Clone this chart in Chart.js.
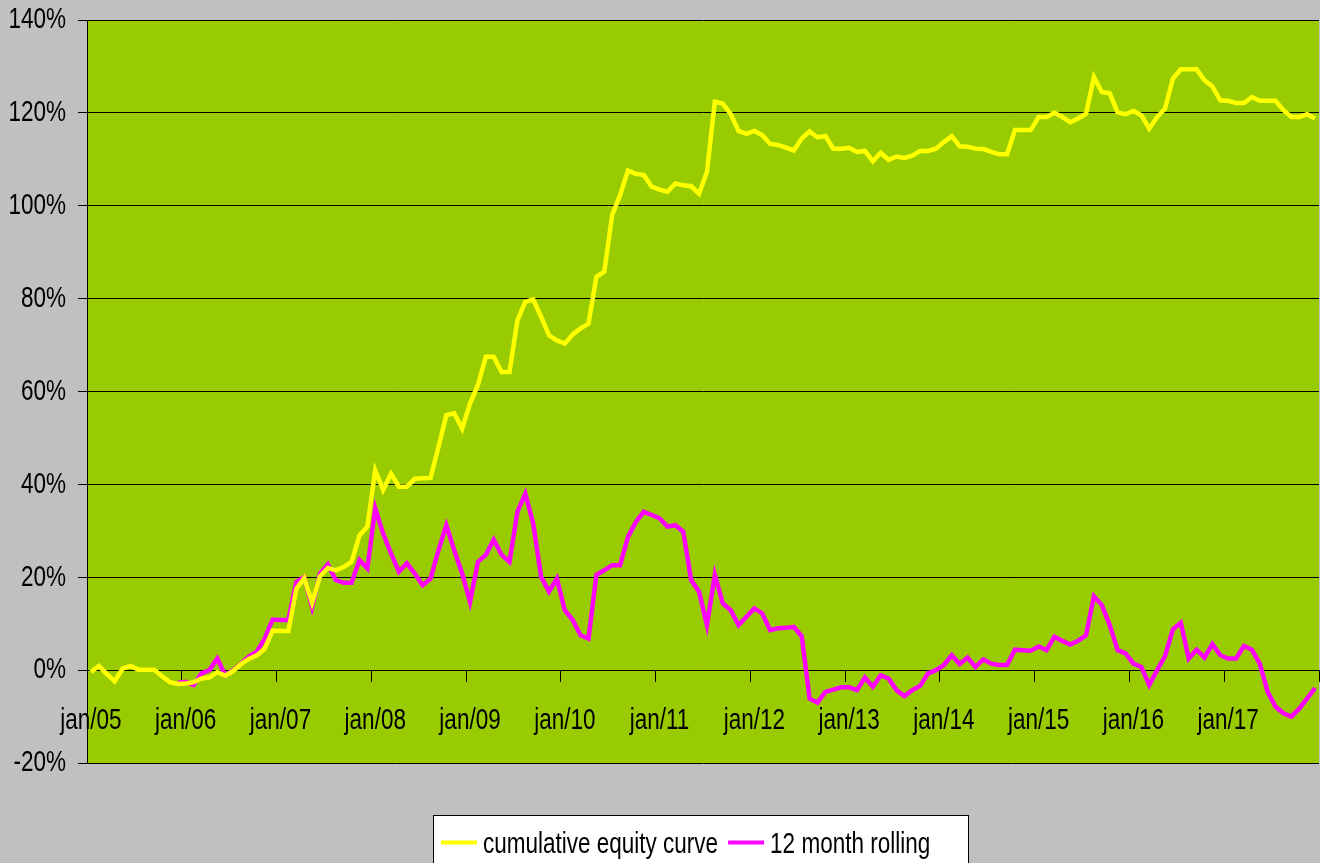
<!DOCTYPE html>
<html>
<head>
<meta charset="utf-8">
<title>equity curve</title>
<script src="https://cdn.jsdelivr.net/npm/chart.js@4.4.1/dist/chart.umd.min.js"></script>
<style>
  html, body { margin: 0; padding: 0; background: #c0c0c0; }
  #wrap { position: relative; width: 1320px; height: 863px; overflow: hidden; }
</style>
</head>
<body>
<div id="wrap"><canvas id="equity" width="1320" height="863"></canvas></div>
<script>
// months jan/05 .. dec/17, labels in mmm/yy
const years = ['05','06','07','08','09','10','11','12','13','14','15','16','17'];
const monthNames = ['jan','feb','mrt','apr','mei','jun','jul','aug','sep','okt','nov','dec'];

// cumulative equity curve, % (one row per year)
const cumulative = [
    -0.4, 0.9, -0.8, -2.4, 0.3, 0.9, 0.1, 0.1, 0.1, -1.3, -2.6, -3.0,
    -2.9, -2.6, -1.8, -1.6, -0.4, -1.2, -0.2, 1.3, 2.4, 3.2, 4.6, 8.5,
    8.4, 8.4, 17.5, 19.8, 14.5, 20.2, 22.0, 21.5, 22.2, 23.3, 29.0, 30.9,
    43.0, 38.8, 42.3, 39.5, 39.5, 41.2, 41.3, 41.4, 48.0, 54.9, 55.3, 52.0,
    57.4, 61.4, 67.5, 67.5, 64.2, 64.2, 75.3, 79.3, 79.8, 76.1, 72.1, 71.0,
    70.3, 72.3, 73.6, 74.6, 84.7, 85.8, 98.0, 102.3, 107.6, 106.9, 106.6, 104.1,
    103.5, 103.0, 104.8, 104.4, 104.2, 102.6, 107.3, 122.4, 122.0, 119.8, 116.1, 115.5,
    116.1, 115.2, 113.3, 113.1, 112.5, 111.9, 114.5, 116.0, 114.7, 115.0, 112.3, 112.3,
    112.5, 111.6, 111.8, 109.6, 111.4, 109.9, 110.6, 110.3, 110.8, 111.8, 111.8, 112.3,
    113.7, 115.0, 112.8, 112.7, 112.3, 112.2, 111.6, 111.1, 111.1, 116.3, 116.3, 116.3,
    119.1, 119.1, 120.0, 119.1, 118.0, 118.8, 119.8, 127.7, 124.5, 124.2, 120.1, 119.7,
    120.4, 119.5, 116.6, 119.1, 120.9, 127.4, 129.4, 129.4, 129.4, 127.0, 125.7, 122.7,
    122.6, 122.1, 122.1, 123.4, 122.6, 122.6, 122.6, 120.6, 119.1, 119.1, 119.7, 118.8
];

// 12 month rolling return, %; first full window ends dec/05
const rolling12 = [
    null, null, null, null, null, null, null, null, null, null, null, -2.7,
    -2.5, -3.2, -0.7, 0.0, 2.5, -1.1, 0.0, 1.4, 2.9, 4.0, 6.8, 10.9,
    10.8, 10.8, 19.0, 20.0, 13.6, 20.8, 22.8, 19.4, 18.8, 18.8, 23.7, 21.9,
    34.8, 29.4, 25.1, 21.2, 23.0, 20.8, 18.3, 19.7, 25.8, 31.2, 25.8, 20.8,
    14.7, 23.3, 24.8, 28.1, 24.8, 23.3, 34.1, 38.0, 31.6, 20.1, 16.9, 19.7,
    12.9, 10.8, 7.5, 6.8, 20.5, 21.5, 22.6, 22.6, 28.7, 31.9, 34.1, 33.4,
    32.7, 30.9, 31.2, 29.8, 19.4, 16.9, 9.7, 20.5, 14.4, 12.9, 9.7, 11.5,
    13.3, 12.2, 8.6, 9.0, 9.1, 9.3, 7.3, -6.1, -7.0, -4.7, -4.2, -3.7,
    -3.7, -4.3, -1.6, -3.6, -1.1, -1.8, -4.3, -5.6, -4.3, -3.4, -0.7, 0.0,
    1.1, 3.2, 1.3, 2.7, 0.7, 2.3, 1.4, 1.1, 1.1, 4.4, 4.3, 4.2,
    5.1, 4.3, 7.2, 6.3, 5.5, 6.3, 7.5, 15.9, 14.0, 9.7, 4.3, 3.6,
    1.4, 0.7, -3.2, 0.0, 3.0, 8.8, 10.2, 2.5, 4.4, 2.7, 5.6, 3.2,
    2.5, 2.5, 5.2, 4.4, 1.4, -4.7, -7.9, -9.3, -10.0, -8.3, -6.1, -3.9
];

// y axis range, %
const yMin = -20;
const yMax = 140;
const yStep = 20;

const seriesNames = ['cumulative equity curve', '12 month rolling'];

window.EquityApp = window.EquityApp || {};
(function(ns){
    ns.FONT = "'Liberation Sans', Arial, sans-serif";
    ns.SQUEEZE = 0.75;   // narrow look of the text
    ns.labels = [];
    years.forEach(y => monthNames.forEach(m => ns.labels.push(m + '/' + y)));

    // no narrow face installed, so squeeze text horizontally through maxWidth
    ns.narrowText = ctx => {
        const fill = ctx.fillText.bind(ctx);
        ctx.fillText = (t, x, y, mw) => {
            const w = ctx.measureText(t).width * ns.SQUEEZE;
            fill(t, x, y, mw === undefined ? w : Math.min(mw, w));
        };
        return ctx;
    };

    // green plot area behind the lines
    ns.plotBg = {
        id: 'plotBg',
        beforeDraw(chart) {
            const { ctx, chartArea: a } = chart;
            ctx.save();
            ctx.fillStyle = '#99cc00';
            ctx.fillRect(a.left, a.top, a.right - a.left, a.bottom - a.top);
            ctx.restore();
        }
    };

    // boxed legend under the plot, like the spreadsheet one
    ns.legendBox = {
        id: 'legendBox',
        afterDraw(chart) {
            const { ctx, chartArea: a } = chart;
            const w = 535, top = a.bottom + 52;
            const left = Math.round((a.left + a.right) / 2 - w / 2) - 3;
            ctx.save();
            ctx.fillStyle = '#fff';
            ctx.fillRect(left, top, w, 60);
            ctx.strokeStyle = '#000';
            ctx.lineWidth = 1;
            ctx.strokeRect(left + 0.5, top + 0.5, w, 60);
            ctx.font = '30px ' + ns.FONT;
            ctx.textAlign = 'left';
            ctx.textBaseline = 'alphabetic';
            let x = left + 8;
            chart.data.datasets.forEach(ds => {
                ctx.strokeStyle = ds.borderColor;
                ctx.lineWidth = 4;
                ctx.beginPath();
                ctx.moveTo(x, top + 27.5);
                ctx.lineTo(x + 36, top + 27.5);
                ctx.stroke();
                x += 42;
                ctx.fillStyle = '#000';
                ctx.fillText(ds.label, x, top + 38);
                x += ctx.measureText(ds.label).width * ns.SQUEEZE + 10;
            });
            ctx.restore();
        }
    };

    ns.render = function(canvas){
        Chart.defaults.font.family = ns.FONT;
        Chart.defaults.font.size = 30;
        Chart.defaults.color = '#000';

        return new Chart(ns.narrowText(canvas.getContext('2d')), {
            type: 'line',
            data: {
                labels: ns.labels,
                datasets: [{
                    label: seriesNames[0],
                    data: cumulative,
                    borderColor: '#ffff00',
                    borderWidth: 4.5,
                    pointRadius: 0,
                    tension: 0,
                    fill: false
                }, {
                    label: seriesNames[1],
                    data: rolling12,
                    borderColor: '#ff00ff',
                    borderWidth: 4.5,
                    pointRadius: 0,
                    tension: 0,
                    fill: false
                }]
            },
            options: {
                responsive: false,
                animation: false,
                devicePixelRatio: 1,
                layout: { padding: { top: 20, right: 1, bottom: 100, left: 0 } },
                plugins: {
                    legend: { display: false },
                    tooltip: { enabled: false }
                },
                scales: {
                    x: {
                        type: 'category',
                        position: { y: 0 },   // axis crosses at 0%
                        offset: true,
                        afterFit: s => { s.paddingLeft = 0; s.paddingRight = 0; },
                        grid: {
                            offset: true,
                            drawOnChartArea: false,
                            tickLength: 11,
                            tickColor: c => (c.type !== 'tick' || c.index % 12 === 0) ? '#000' : 'rgba(0,0,0,0)'
                        },
                        border: { display: true, color: '#000', width: 1 },
                        ticks: {
                            autoSkip: false,
                            maxRotation: 0,
                            padding: 22,
                            callback: function(v, i) { return i % 12 === 0 ? this.getLabelForValue(v) : ''; }
                        }
                    },
                    y: {
                        min: yMin,
                        max: yMax,
                        afterFit: s => { s.width = 87; s.paddingTop = 0; s.paddingBottom = 0; },
                        grid: { color: '#000', lineWidth: 1, tickLength: 9, tickColor: '#000' },
                        border: { display: true, color: '#000', width: 1 },
                        ticks: {
                            stepSize: yStep,
                            padding: 12,
                            callback: v => v + '%'
                        }
                    }
                }
            },
            plugins: [ns.plotBg, ns.legendBox]
        });
    };

    ns.chart = ns.render(document.getElementById('equity'));
})(window.EquityApp);
</script>
</body>
</html>
